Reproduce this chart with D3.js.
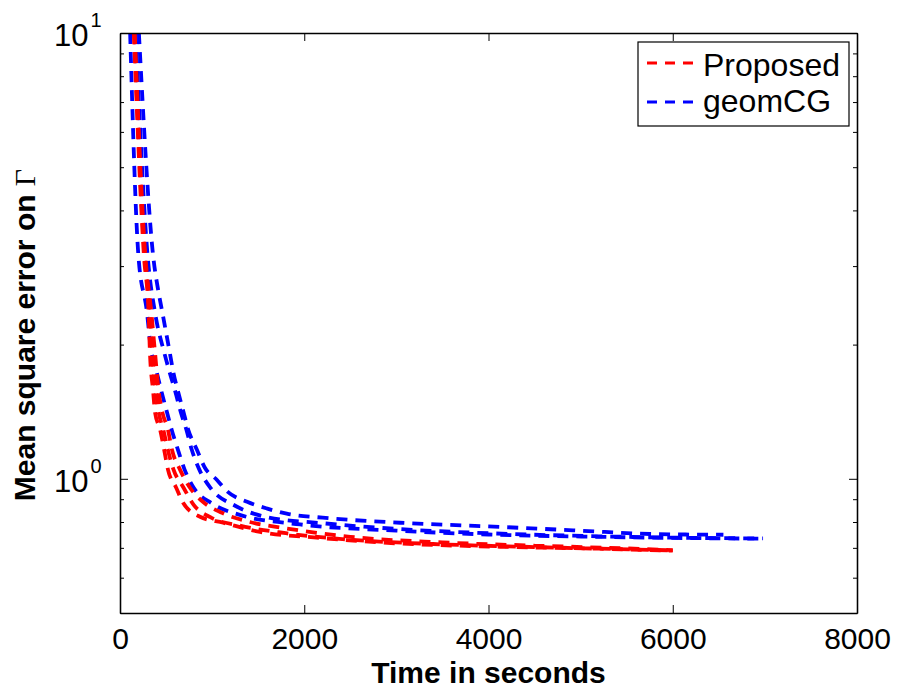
<!DOCTYPE html>
<html>
<head>
<meta charset="utf-8">
<script src="https://cdn.jsdelivr.net/npm/d3@7"></script>
<style>
  body { margin: 0; background: #fff; }
  #mseviz { width: 900px; height: 692px; }
</style>
</head>
<body>
<div id="mseviz"></div>
<script>
// runs: time in seconds / mean square error on Gamma
var red1Time = [150, 260, 310, 325, 360, 380, 435, 480, 520, 610, 685, 868, 1120, 1520, 2135, 2860, 4125, 5200, 6000];
var red1Mse  = [10, 3.16, 2.36, 1.92, 1.57, 1.41, 1.29, 1.16, 1.05, 0.955, 0.884, 0.822, 0.797, 0.76, 0.738, 0.719, 0.704, 0.697, 0.69];
var red2Time = [160, 275, 340, 380, 420, 460, 520, 565, 650, 760, 900, 1107, 1410, 1770, 2500, 3500, 4500, 5300, 6000];
var red2Mse  = [10, 3.16, 2.36, 1.92, 1.57, 1.41, 1.29, 1.16, 1.05, 0.955, 0.888, 0.839, 0.80, 0.776, 0.741, 0.72, 0.708, 0.70, 0.692];
var red3Time = [155, 268, 325, 350, 390, 420, 470, 520, 580, 690, 800, 980, 1300, 1800, 2500, 3400, 4500, 6000];
var red3Mse  = [10, 3.16, 2.36, 1.92, 1.57, 1.41, 1.29, 1.16, 1.05, 0.955, 0.874, 0.82, 0.785, 0.755, 0.73, 0.714, 0.703, 0.691];

var blue1Time = [110, 200, 293, 330, 400, 450, 510, 560, 630, 700, 800, 1000, 1300, 1954, 3000, 4000, 5200, 6000, 6980];
var blue1Mse  = [10, 3.16, 2.36, 2.0, 1.73, 1.57, 1.41, 1.29, 1.16, 1.05, 0.955, 0.88, 0.83, 0.79, 0.765, 0.75, 0.741, 0.737, 0.734];
var blue2Time = [170, 300, 380, 480, 540, 600, 660, 720, 780, 860, 980, 1250, 1600, 2200, 3000, 4000, 5200, 6000, 6980];
var blue2Mse  = [10, 3.16, 2.36, 1.92, 1.73, 1.57, 1.41, 1.29, 1.16, 1.05, 0.955, 0.87, 0.82, 0.795, 0.772, 0.755, 0.743, 0.738, 0.735];
var blue3Time = [205, 360, 420, 460, 500, 540, 580, 630, 690, 740, 836, 920, 1050, 1170, 1380, 1600, 1810, 2200, 3040, 4125, 5000, 5750, 6550];
var blue3Mse  = [10, 3.16, 2.61, 2.36, 2.13, 1.92, 1.73, 1.57, 1.41, 1.29, 1.16, 1.06, 0.995, 0.935, 0.888, 0.857, 0.835, 0.818, 0.797, 0.78, 0.765, 0.752, 0.749];

var xTicks = [0, 2000, 4000, 6000, 8000];
var yMajor = [1, 10];
var yMinor = [0.5, 0.6, 0.7, 0.8, 0.9, 2, 3, 4, 5, 6, 7, 8, 9];
var legendNames = ['Proposed', 'geomCG'];
var legendColors = ['#ff0000', '#0000ff'];

// set the dimensions and margins of the graph
var margin = {top: 33, right: 43, bottom: 79, left: 120};
var dims = {width: 900 - margin.left - margin.right, height: 692 - margin.top - margin.bottom};
var font = "'Liberation Sans', Arial, Helvetica, sans-serif";

var svg = d3.select("#mseviz")
  .append("svg")
    .attr("width", 900)
    .attr("height", 692)
  .append("g")
    .attr("transform", "translate(" + margin.left + "," + margin.top + ")");

var x = d3.scaleLinear().domain([0, 8000]).range([0, dims.width]);
var y = d3.scaleLog().domain([0.5, 10]).range([dims.height, 0]);

svg.append("clipPath").attr("id", "plotclip")
  .append("rect").attr("width", dims.width).attr("height", dims.height);

// runs, blue drawn first so red sits on top
var runs = [
  {color: '#0000ff', t: blue1Time, v: blue1Mse},
  {color: '#0000ff', t: blue2Time, v: blue2Mse},
  {color: '#0000ff', t: blue3Time, v: blue3Mse},
  {color: '#ff0000', t: red1Time, v: red1Mse},
  {color: '#ff0000', t: red3Time, v: red3Mse},
  {color: '#ff0000', t: red2Time, v: red2Mse}
];
var line = d3.line()
  .x(function(d) { return x(d[0]); })
  .y(function(d) { return y(d[1]); })
  .curve(d3.curveMonotoneX);

svg.append("g").attr("clip-path", "url(#plotclip)")
  .selectAll("path")
  .data(runs)
  .join("path")
    .attr("fill", "none")
    .attr("stroke", function(d) { return d.color; })
    .attr("stroke-width", 3.8)
    .attr("stroke-dasharray", "11,8")
    .attr("d", function(d) { return line(d3.zip(d.t, d.v)); });

// axes, matlab style: ticks inside on all four sides
var styleAxis = function(g) {
  g.attr("font-family", font);
  g.select(".domain").attr("stroke", "#000").attr("stroke-width", 1.3);
  g.selectAll(".tick line").attr("stroke", "#000").attr("stroke-width", 1);
  g.selectAll(".tick text").attr("fill", "#000");
};
svg.append("g")
  .attr("transform", "translate(0," + dims.height + ")")
  .call(d3.axisBottom(x).tickValues(xTicks).tickFormat(d3.format("d"))
    .tickSizeInner(-8).tickSizeOuter(0).tickPadding(15))
  .call(styleAxis)
  .attr("font-size", 30);
svg.append("g")
  .call(d3.axisTop(x).tickValues(xTicks).tickSizeInner(-8).tickSizeOuter(0).tickFormat(""))
  .call(styleAxis);
[[d3.axisLeft, 0], [d3.axisRight, dims.width]].forEach(function(a) {
  svg.append("g")
    .attr("transform", "translate(" + a[1] + ",0)")
    .call(a[0](y).tickValues(yMajor).tickSizeInner(-8).tickSizeOuter(0).tickFormat(""))
    .call(styleAxis);
  svg.append("g")
    .attr("transform", "translate(" + a[1] + ",0)")
    .call(a[0](y).tickValues(yMinor).tickSizeInner(-4).tickSizeOuter(0).tickFormat(""))
    .call(styleAxis);
});

// y tick labels as 10^k
var ylab = svg.selectAll(".ylab")
  .data(yMajor)
  .join("text")
    .attr("font-family", font)
    .attr("fill", "#000")
    .attr("x", -66)
    .attr("y", function(d) { return y(d) + 13; });
ylab.append("tspan").attr("font-size", 31).text("10");
ylab.append("tspan")
  .attr("font-size", 20)
  .attr("dx", 2)
  .attr("dy", -19)
  .text(function(d) { return Math.round(Math.log10(d)); });

// axis titles
svg.append("text")
  .attr("font-family", font)
  .attr("font-weight", "bold")
  .attr("font-size", 30)
  .attr("text-anchor", "middle")
  .attr("x", dims.width / 2)
  .attr("y", 650)
  .text("Time in seconds");
var ytitle = svg.append("text")
  .attr("font-family", font)
  .attr("font-weight", "bold")
  .attr("font-size", 30)
  .attr("text-anchor", "middle")
  .attr("transform", "translate(" + (-85) + "," + 302 + ") rotate(-90)");
ytitle.append("tspan").text("Mean square error on ");
ytitle.append("tspan")
  .attr("font-family", "'Liberation Serif', 'DejaVu Serif', serif")
  .attr("font-weight", "normal")
  .text("\u0393");

// legend
var legend = svg.append("g").attr("transform", "translate(518,9)");
legend.append("rect")
  .attr("width", 211).attr("height", 84)
  .attr("fill", "#fff").attr("stroke", "#000").attr("stroke-width", 1.2);
legendNames.forEach(function(name, i) {
  legend.append("line")
    .attr("x1", 9).attr("x2", 59)
    .attr("y1", 21 + i * 39).attr("y2", 21 + i * 39)
    .attr("stroke", legendColors[i])
    .attr("stroke-width", 3)
    .attr("stroke-dasharray", "10,8");
  legend.append("text")
    .attr("font-family", font)
    .attr("font-size", 32)
    .attr("x", 65)
    .attr("y", 34 + i * 36)
    .text(name);
});
</script>
</body>
</html>
